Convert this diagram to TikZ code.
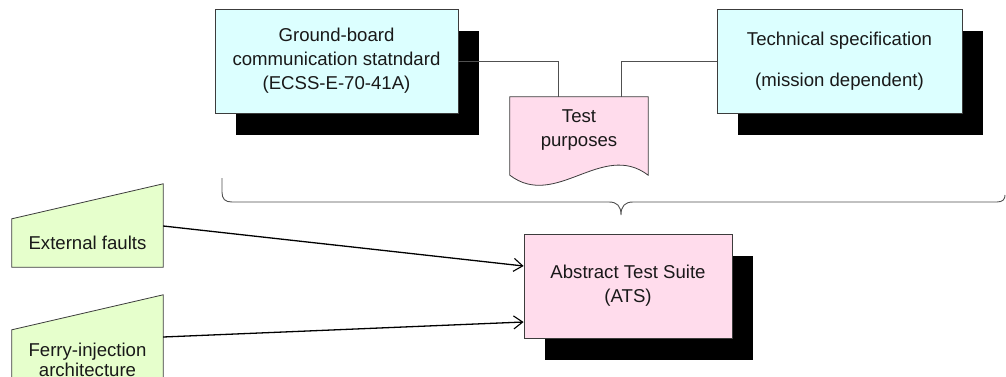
\documentclass[tikz,border=0pt]{standalone}
\usepackage{fontspec}
\setmainfont{Liberation Sans}
\usetikzlibrary{calc,shadows,backgrounds,arrows.meta}
\definecolor{boxcyan}{RGB}{220,255,255}
\definecolor{boxpink}{RGB}{255,220,236}
\definecolor{boxgreen}{RGB}{230,255,204}
\definecolor{edgegray}{RGB}{60,60,60}
\definecolor{linegray}{RGB}{80,80,80}
\tikzset{
  txt/.style={font=\fontsize{18.6}{24}\selectfont, text=black!90, align=center, inner sep=0pt},
  shadowbox/.style={txt, draw=edgegray, line width=0.8pt,
    drop shadow={shadow xshift=21pt, shadow yshift=-22pt, fill=black, opacity=1}},
  specbox/.style={shadowbox, fill=boxcyan},
  atsbox/.style={shadowbox, fill=boxpink},
  plain/.style={txt, draw=none},
  shapeline/.style={draw=edgegray, line width=0.8pt},
  link/.style={draw=linegray, line width=0.9pt},
  feed/.style={draw=black, line width=1.3pt, -{Straight Barb[length=9pt,width=13pt,line width=1.1pt]}},
}
\begin{document}
\begin{tikzpicture}[x=1pt,y=-1pt]
\useasboundingbox (0,0) rectangle (1006,377);
\clip (0,0) rectangle (1006,377);

% standards and specification inputs
\node[specbox, minimum width=243pt, minimum height=104pt] (gb) at (336.5,61)
  {Ground-board\\communication statndard\\(ECSS-E-70-41A)};
\node[specbox, minimum width=245pt, minimum height=104pt] (ts) at (839.5,61)
  {Technical specification\\[17pt](mission dependent)};

% test purposes document
\node[plain, minimum width=138pt, minimum height=66pt] (tp) at (579,130) {Test\\purposes};
\begin{scope}[on background layer]
  \path[shapeline, fill=boxpink] (tp.north west) -- (tp.north east)
    -- ($(tp.south east)+(0,12)$)
    .. controls ($(tp.south east)+(-46,-23)$) and ($(tp.south west)+(46,47)$)
    .. ($(tp.south west)+(0,12)$) -- cycle;
\end{scope}

\draw[link] (gb.east) -| ($(tp.north)+(-21,0)$);
\draw[link] (ts.west) -| ($(tp.north)+(42,0)$);

% brace gathering the inputs
\coordinate (bl) at (222,178);
\coordinate (bm) at (621,215);
\coordinate (br) at (1005,195);
\draw[link] (bl) -- ++(0,14) .. controls ++(0,7) and ++(-7,0) .. ++(10,10)
  -- ($(bm)+(-12,-13)$) .. controls ($(bm)+(-4,-13)$) and ($(bm)+(0,-9)$) .. (bm)
  .. controls ($(bm)+(0,-9)$) and ($(bm)+(4,-13)$) .. ($(bm)+(12,-13)$)
  -- ($(br)+(-8,7)$) .. controls ($(br)+(-2,7)$) and ($(br)+(0,4)$) .. (br);

% abstract test suite
\node[atsbox, minimum width=208pt, minimum height=104pt] (ats) at (628,286)
  {Abstract Test Suite\\(ATS)};

% manual inputs
\node[plain, minimum width=151pt, minimum height=48pt] (ef) at (87.5,243) {External faults};
\node[plain, minimum width=151pt, minimum height=60pt, font=\fontsize{18.6}{20}\selectfont] (fi) at (87.5,360)
  {Ferry-injection\\architecture};
\begin{scope}[on background layer]
  \path[shapeline, fill=boxgreen] (ef.south west) -- (ef.north west)
    -- ($(ef.north east)+(0,-35)$) -- (ef.south east) -- cycle;
  \path[shapeline, fill=boxgreen] (fi.south west) -- (fi.north west)
    -- ($(fi.north east)+(0,-35)$) -- (fi.south east) -- cycle;
\end{scope}

\draw[feed] ($(ef.east)+(0,-17)$) -- ($(ats.west)+(0,-20)$);
\draw[feed] ($(fi.east)+(0,-23)$) -- ($(ats.west)+(0,36)$);
\end{tikzpicture}
\end{document}
